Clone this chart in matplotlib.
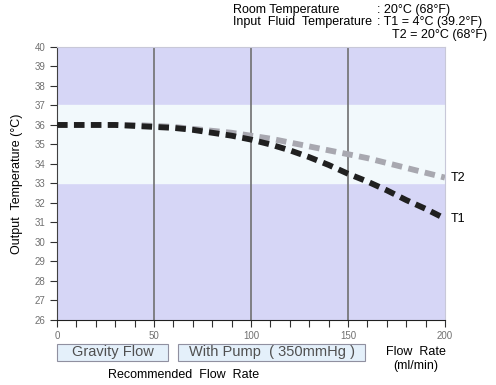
import matplotlib.pyplot as plt
from matplotlib.patches import FancyBboxPatch

plt.rcParams['font.family'] = ['Liberation Sans', 'DejaVu Sans']

# Flow rate (ml/min) and output temperature (C)
flow = [0, 10, 20, 30, 40, 50, 60, 70, 80, 90, 100,
        110, 120, 130, 140, 150, 160, 170, 180, 190, 200]
t1 = [36.0, 36.0, 36.0, 36.0, 35.95, 35.9, 35.85, 35.75, 35.6, 35.45, 35.25,
      35.0, 34.7, 34.35, 33.95, 33.5, 33.1, 32.65, 32.15, 31.7, 31.2]
t2 = [36.0, 36.0, 36.0, 36.0, 36.0, 35.95, 35.9, 35.8, 35.7, 35.6, 35.45,
      35.3, 35.1, 34.9, 34.7, 34.5, 34.3, 34.05, 33.8, 33.55, 33.3]
y_ticks = list(range(26, 41))
x_labels = [0, 50, 100, 150, 200]
band = (33, 37)

fig = plt.figure(figsize=(4.96, 3.85), dpi=100)
ax = fig.add_axes([0.115, 0.169, 0.782, 0.709])

ax.set_facecolor('#d6d6f6')
ax.axhspan(band[0], band[1], color='#f2f9fc', zorder=0)
for xv in [50, 100, 150]:
    ax.axvline(xv, color='#707070', lw=1.2, zorder=1)

ax.plot(flow, t2, color='#a8a8b0', lw=4.2, dashes=(1.8, 1.1), zorder=3)
ax.plot(flow, t1, color='#202020', lw=4.2, dashes=(1.8, 1.1), zorder=4)

ax.set_xlim(0, 200)
ax.set_ylim(26, 40)
ax.set_yticks(y_ticks)
ax.set_xticks(range(0, 201, 10))
ax.set_xticklabels([str(v) if v in x_labels else '' for v in range(0, 201, 10)])
ax.tick_params(axis='both', labelsize=7, labelcolor='#707070', color='#303030',
               length=5, width=0.8)
ax.tick_params(axis='x', pad=3)

for s in ['top', 'right']:
    ax.spines[s].set_color('#c8c8d8')
ax.spines['left'].set_color('#404040')
ax.spines['bottom'].set_color('#202020')

ax.set_ylabel('Output  Temperature (\u00b0C)', fontsize=9, labelpad=8)

ax.text(203, t2[-1], 'T2', fontsize=9, va='center', clip_on=False)
ax.text(203, t1[-1], 'T1', fontsize=9, va='center', clip_on=False)

fig.text(0.470, 0.975, 'Room Temperature', fontsize=9, va='center')
fig.text(0.470, 0.943, 'Input  Fluid  Temperature', fontsize=9, va='center')
fig.text(0.760, 0.975, ': 20\u00b0C (68\u00b0F)', fontsize=9, va='center')
fig.text(0.760, 0.943, ': T1 = 4\u00b0C (39.2\u00b0F)', fontsize=9, va='center')
fig.text(0.790, 0.910, 'T2 = 20\u00b0C (68\u00b0F)', fontsize=9, va='center')

# recommended flow rate boxes
for x0, x1, label in [(0.115, 0.339, 'Gravity Flow'),
                      (0.359, 0.736, 'With Pump  ( 350mmHg )')]:
    box = FancyBboxPatch((x0, 0.062), x1 - x0, 0.045, transform=fig.transFigure,
                         boxstyle='square,pad=0', fc='#e4f0fa', ec='#9090a0', lw=0.8)
    fig.patches.append(box)
    fig.text((x0 + x1) / 2, 0.085, label, fontsize=10.5, color='#505050',
             ha='center', va='center')

fig.text(0.370, 0.025, 'Recommended  Flow  Rate', fontsize=9, ha='center', va='center')
fig.text(0.838, 0.085, 'Flow  Rate', fontsize=9, ha='center', va='center')
fig.text(0.838, 0.050, '(ml/min)', fontsize=9, ha='center', va='center')

fig.savefig('out.png', dpi=100)
